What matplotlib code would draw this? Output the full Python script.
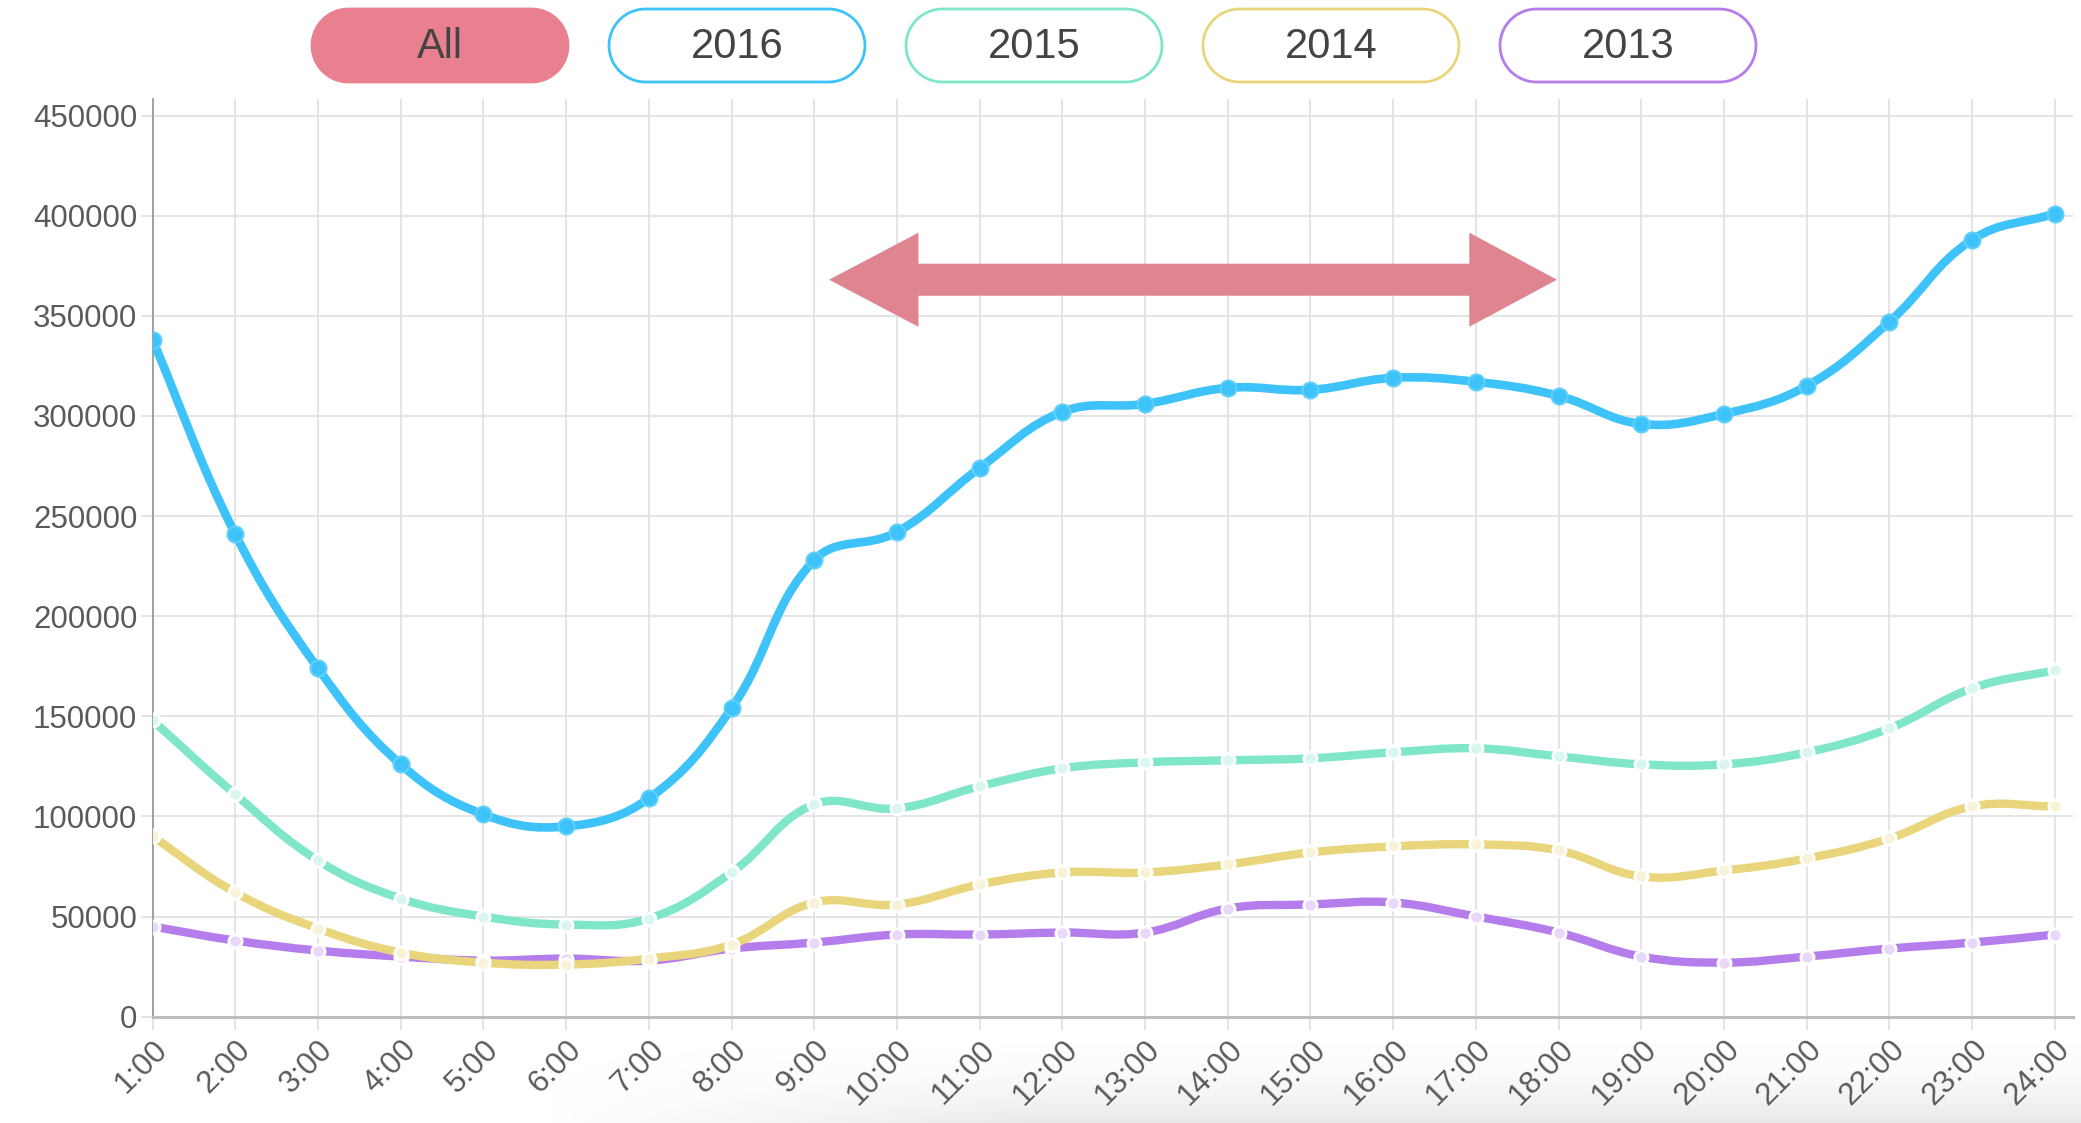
import numpy as np
import matplotlib
matplotlib.use('Agg')
import matplotlib.pyplot as plt
from matplotlib.path import Path
from matplotlib.patches import PathPatch, Polygon

plt.rcParams['font.family'] = ['Liberation Sans', 'DejaVu Sans']

hours = [f'{h}:00' for h in range(1, 25)]
y2016 = [338000, 241000, 174000, 126000, 101000, 95000, 109000, 154000, 228000, 242000, 274000, 302000,
         306000, 314000, 313000, 319000, 317000, 310000, 296000, 301000, 315000, 347000, 388000, 401000]
y2015 = [148000, 111000, 78000, 59000, 50000, 46000, 49000, 72000, 106000, 104000, 115000, 124000,
         127000, 128000, 129000, 132000, 134000, 130000, 126000, 126000, 132000, 144000, 164000, 173000]
y2014 = [90000, 62000, 44000, 32000, 27000, 26000, 29000, 36000, 57000, 56000, 66000, 72000,
         72000, 76000, 82000, 85000, 86000, 83000, 70000, 73000, 79000, 89000, 105000, 105000]
y2013 = [45000, 38000, 33000, 30000, 28000, 29000, 28000, 34000, 37000, 41000, 41000, 42000,
         42000, 54000, 56000, 57000, 50000, 42000, 30000, 27000, 30000, 34000, 37000, 41000]
legend_labels = ['All', '2016', '2015', '2014', '2013']

c2016 = '#3dc3fa'
c2015 = '#7fe6c9'
c2014 = '#e9d67c'
c2013 = '#b57cec'
pink = '#e8808f'

W, H = 2081, 1123
fig = plt.figure(figsize=(W / 100, H / 100), dpi=100)
ax = fig.add_axes([0.0733, 0.0947, 0.9962 - 0.0733, 0.9114 - 0.0947])

# pixel scale used for the chart.js style spline (tension 0.4)
sx = 82.7
sy = 100.6 / 50000


def spline_path(xs, ys, t=0.4):
    px = np.asarray(xs, float) * sx
    py = np.asarray(ys, float) * sy
    n = len(px)
    verts = [(px[0], py[0])]
    codes = [Path.MOVETO]
    cps = []
    for i in range(n):
        p0 = (px[max(i - 1, 0)], py[max(i - 1, 0)])
        p1 = (px[i], py[i])
        p2 = (px[min(i + 1, n - 1)], py[min(i + 1, n - 1)])
        d01 = np.hypot(p1[0] - p0[0], p1[1] - p0[1])
        d12 = np.hypot(p2[0] - p1[0], p2[1] - p1[1])
        s01 = d01 / (d01 + d12) if d01 + d12 else 0
        s12 = d12 / (d01 + d12) if d01 + d12 else 0
        fa, fb = t * s01, t * s12
        prev_cp = (p1[0] - fa * (p2[0] - p0[0]), p1[1] - fa * (p2[1] - p0[1]))
        next_cp = (p1[0] + fb * (p2[0] - p0[0]), p1[1] + fb * (p2[1] - p0[1]))
        cps.append((prev_cp, next_cp))
    for i in range(1, n):
        verts += [cps[i - 1][1], cps[i][0], (px[i], py[i])]
        codes += [Path.CURVE4] * 3
    verts = [(vx / sx, vy / sy) for vx, vy in verts]
    return Path(verts, codes)


def stadium(x0, y0, w, h):
    r = h / 2
    a1 = np.linspace(np.pi / 2, 3 * np.pi / 2, 40)
    a2 = np.linspace(-np.pi / 2, np.pi / 2, 40)
    left = np.c_[x0 + r + r * np.cos(a1), y0 + r - r * np.sin(a1)]
    right = np.c_[x0 + w - r + r * np.cos(a2), y0 + r - r * np.sin(a2)]
    return np.vstack([left, right])


x = np.arange(1, 25)
faded = [(y2013, c2013), (y2014, c2014), (y2015, c2015)]
for ys, col in faded:
    ax.add_patch(PathPatch(spline_path(x, ys), facecolor='none', edgecolor=col, lw=6.0,
                           capstyle='round', zorder=3))
    rgb = np.array(matplotlib.colors.to_rgb(col))
    pale = rgb * 0.3 + 0.7
    ax.plot(x, ys, ls='none', marker='o', ms=9.5, mfc=pale, mec='white', mew=2.0, zorder=4)

ax.add_patch(PathPatch(spline_path(x, y2016), facecolor='none', edgecolor=c2016, lw=6.2,
                       capstyle='round', zorder=5))
ax.plot(x, y2016, ls='none', marker='o', ms=11.5, mfc=c2016, mec='#5fcffb', mew=1.5, zorder=6)

# double arrow spanning the daytime plateau
arrow_y, head_h, shaft_h = 368000, 23500, 8000
arrow = [(9.18, arrow_y), (10.26, arrow_y + head_h), (10.26, arrow_y + shaft_h),
         (16.92, arrow_y + shaft_h), (16.92, arrow_y + head_h), (17.98, arrow_y),
         (16.92, arrow_y - head_h), (16.92, arrow_y - shaft_h), (10.26, arrow_y - shaft_h),
         (10.26, arrow_y - head_h)]
ax.add_patch(Polygon(arrow, closed=True, facecolor='#df858f', edgecolor='none', zorder=7))

ax.set_xlim(1, 24.22)
ax.set_ylim(0, 458000)
ax.set_xticks(x)
ax.set_xticklabels(hours, rotation=45, ha='right', rotation_mode='anchor')
ax.set_yticks(np.arange(0, 450001, 50000))
ax.set_yticklabels([str(v) for v in range(0, 450001, 50000)])
ax.tick_params(axis='both', labelsize=22.5, colors='#e2e2e2', labelcolor='#5a5a5a', length=9, width=1.3)
ax.tick_params(axis='x', pad=4)
ax.tick_params(axis='y', pad=2)
ax.grid(True, color='#e2e2e2', lw=1.3, zorder=0)
ax.set_axisbelow(True)
for s in ['top', 'right']:
    ax.spines[s].set_visible(False)
ax.spines['left'].set_color('#9a9a9a')
ax.spines['bottom'].set_color('#bdbdbd')
ax.spines['left'].set_linewidth(1.3)
ax.spines['bottom'].set_linewidth(2.2)

# overlay in pixel coordinates for the bottom shadow
ov = fig.add_axes([0, 0, 1, 1], zorder=-1)
ov.set_xlim(0, W)
ov.set_ylim(H, 0)
ov.axis('off')
ov.patch.set_alpha(0)

shade = np.linspace(0, 1, 90)[:, None] * np.ones((1, 300))
ramp = np.clip(np.linspace(0, 3, 300), 0, 1)[None, :]
alpha = shade ** 2 * ramp * 0.35
img = np.zeros((90, 300, 4))
img[..., :3] = 0.75
img[..., 3] = alpha
ov.imshow(img, extent=(540, W, H, H - 90), aspect='auto', zorder=0)

# legend pills
pill_x = [312, 609, 906, 1203, 1500]
pill_cols = [pink, c2016, c2015, c2014, c2013]
pw, ph, py0 = 256, 73, 9
top = fig.add_axes([0, 0, 1, 1], zorder=10)
top.set_xlim(0, W)
top.set_ylim(H, 0)
top.axis('off')
for i, (lab, px0, col) in enumerate(zip(legend_labels, pill_x, pill_cols)):
    top.add_patch(Polygon(stadium(px0, py0, pw, ph), closed=True,
                          facecolor=col if i == 0 else 'white', edgecolor=col, lw=2.0))
    top.text(px0 + pw / 2, py0 + ph / 2 + 2, lab, ha='center', va='center', fontsize=30,
             color='#444444')

fig.savefig('out.png', dpi=100)
